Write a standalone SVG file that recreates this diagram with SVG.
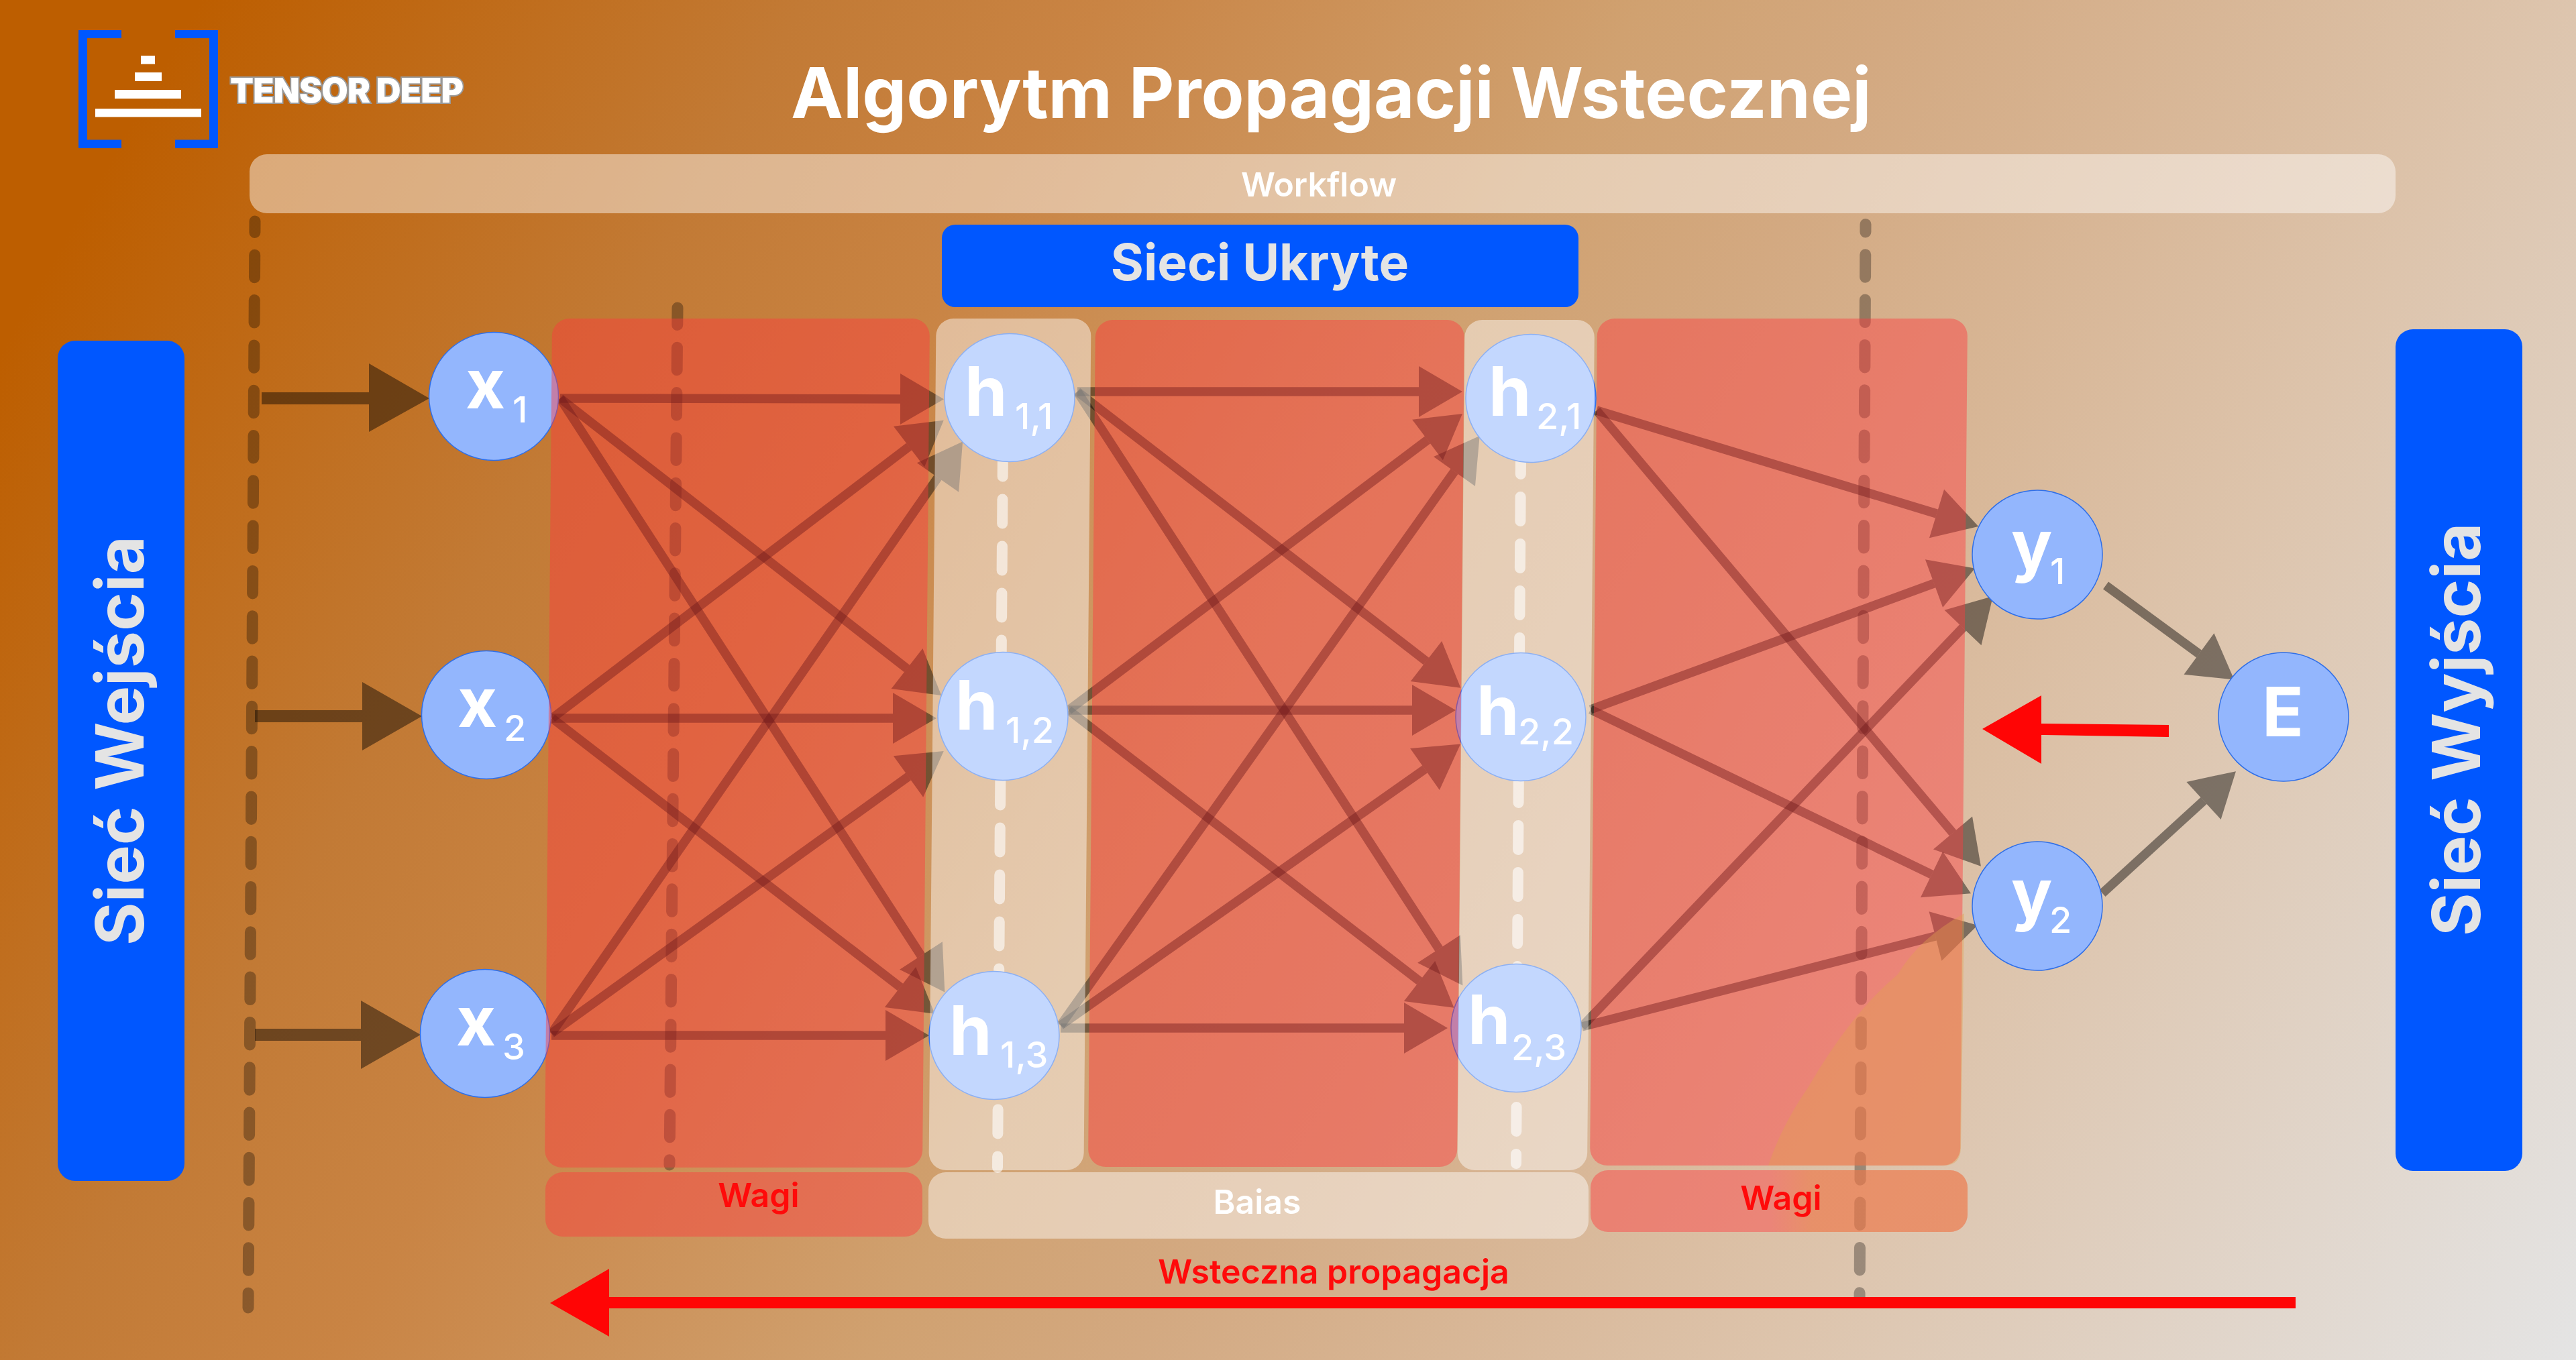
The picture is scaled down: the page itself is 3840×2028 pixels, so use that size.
<svg xmlns="http://www.w3.org/2000/svg" width="3840" height="2028" viewBox="0 0 3840 2028">
<style>
text{font-family:"Inter","Liberation Sans",sans-serif;fill:#fff}
.n{fill:#93b6fd;stroke:#2f6fe8;stroke-width:1.5}
.l{font-size:102px;font-weight:700}
.s{font-size:54px;font-weight:500}
.e line{stroke:#000;stroke-opacity:.44;stroke-width:13.5;marker-end:url(#h)}
.d{fill:none;stroke:#000;stroke-opacity:.3;stroke-width:17;stroke-linecap:round;stroke-dasharray:33.5 33.8}
.w{fill:none;stroke:#fff;stroke-opacity:.6;stroke-width:16;stroke-linecap:round;stroke-dasharray:36 34}
.r{fill:#ff393d;fill-opacity:.44}
.b{fill:#fff;fill-opacity:.45}
.o{fill:#e2a050;fill-opacity:.4}
.blue{fill:#0057ff}
.rl{fill:#ff0a0a;font-size:50px;font-weight:600}
.lab{font-size:50px;font-weight:600}
.side{font-size:98.500px;font-weight:700;fill:#e4e4e4}
</style>
<defs>
<linearGradient id="bg" gradientUnits="userSpaceOnUse" x1="0" y1="0" x2="3770" y2="2149">
<stop offset="0" stop-color="#bd5e00"/><stop offset=".06" stop-color="#bd5e00"/><stop offset=".24" stop-color="#c27a35"/><stop offset=".33" stop-color="#c98444"/><stop offset=".49" stop-color="#d0a170"/><stop offset=".57" stop-color="#d3a981"/><stop offset=".76" stop-color="#ddc4ac"/><stop offset="1" stop-color="#e4e4e4"/>
</linearGradient>
<linearGradient id="wo" gradientUnits="userSpaceOnUse" x1="2640" y1="0" x2="2700" y2="0"><stop offset="0" stop-color="#e2a050" stop-opacity="0"/><stop offset="1" stop-color="#e2a050" stop-opacity=".4"/></linearGradient>
<marker id="h" markerUnits="userSpaceOnUse" markerWidth="65" markerHeight="76" viewBox="0 -38 65 76" refX="0" refY="0" orient="auto" overflow="visible"><path d="M0-38L65 0L0 38Z" fill="#000" fill-opacity=".44"/></marker>
</defs>
<rect width="3840" height="2028" fill="url(#bg)"/>
<g id="logo">
<path class="blue" d="M117 45H181V57H130V208.500H181V221H117ZM325 45H261V57H312V208.500H261V221H325Z"/>
<path fill="#fff" d="M210 83H231V95.500H210ZM201 108H241V121H201ZM171 134H270V147H171ZM142 162H300V174.500H142Z"/>
<text x="343" y="153" font-size="51" font-weight="900" letter-spacing="-.8" stroke="#9a9a9a" stroke-width="4" paint-order="stroke">TENSOR DEEP</text>
</g>
<text id="title" x="1179" y="176" font-size="104.500" font-weight="700">Algorytm Propagacji Wstecznej</text>
<g id="guides">
<path class="d" d="M380 330L370 1950" stroke-dashoffset="17"/>
<path class="d" d="M1010 459L998 1737" stroke-dashoffset="8"/>
<path class="d" d="M2781 334.500L2772 1942" stroke-dashoffset="22"/>
<path class="w" d="M1496 534.500L1487 1741"/>
<path class="w" d="M2268 531L2260 1735"/>
</g>
<g id="connectors" class="e">
<line x1="835" y1="594" x2="1342" y2="595"/>
<line x1="835" y1="594" x2="1352" y2="997"/>
<line x1="835" y1="594" x2="1373" y2="1425"/>
<line x1="823" y1="1071" x2="1355" y2="666"/>
<line x1="823" y1="1071" x2="1331" y2="1071"/>
<line x1="823" y1="1071" x2="1342" y2="1472"/>
<line x1="822" y1="1541" x2="1398" y2="712"/>
<line x1="822" y1="1541" x2="1354" y2="1158"/>
<line x1="822" y1="1544" x2="1320" y2="1544"/>
<line x1="1606" y1="584" x2="2115" y2="584"/>
<line x1="1606" y1="584" x2="2126" y2="986"/>
<line x1="1606" y1="584" x2="2145" y2="1415"/>
<line x1="1593" y1="1059" x2="2128" y2="656"/>
<line x1="1593" y1="1059" x2="2105" y2="1059"/>
<line x1="1593" y1="1059" x2="2116" y2="1463"/>
<line x1="1581" y1="1529" x2="2168" y2="703"/>
<line x1="1581" y1="1529" x2="2124" y2="1147"/>
<line x1="1581" y1="1533" x2="2093" y2="1533"/>
<line x1="2380" y1="612" x2="2887" y2="766"/>
<line x1="2380" y1="612" x2="2911" y2="1242"/>
<line x1="2371" y1="1058" x2="2883" y2="870"/>
<line x1="2371" y1="1058" x2="2879.500" y2="1304"/>
<line x1="2358" y1="1531" x2="2926" y2="936"/>
<line x1="2358" y1="1531" x2="2885" y2="1396"/>
<line x1="3139" y1="873" x2="3278" y2="975"/>
<line x1="3134" y1="1332" x2="3285" y2="1194"/>
</g>
<g id="inputs" fill="#000" fill-opacity=".44">
<path d="M390 585H550V542L640 594L550 644V603H390Z"/>
<path d="M380 1059H540V1017L629 1068L540 1119V1077H380Z"/>
<path d="M380 1534H538V1492L627 1543L538 1594V1552H380Z"/>
</g>
<g id="x1"><ellipse class="n" cx="736" cy="591" rx="96.500" ry="95.500"/><text class="l" x="694" y="609">x</text><text class="s" x="764" y="630">1</text></g>
<g id="x2"><ellipse class="n" cx="725" cy="1066" rx="96.500" ry="95.500"/><text class="l" x="682" y="1084">x</text><text class="s" x="751" y="1105">2</text></g>
<g id="x3"><ellipse class="n" cx="723" cy="1541" rx="96.500" ry="95.500"/><text class="l" x="680" y="1559">x</text><text class="s" x="749" y="1580">3</text></g>
<g id="h11"><ellipse class="n" cx="1505" cy="593" rx="97" ry="95.500"/><text class="l" x="1438" y="620">h</text><text class="s" x="1513" y="640">1,1</text></g>
<g id="h12"><ellipse class="n" cx="1495" cy="1068" rx="97" ry="95.500"/><text class="l" x="1424" y="1088">h</text><text class="s" x="1499" y="1108">1,2</text></g>
<g id="h13"><ellipse class="n" cx="1482" cy="1544" rx="97" ry="95.500"/><text class="l" x="1415" y="1573">h</text><text class="s" x="1491" y="1592">1,3</text></g>
<g id="h21"><ellipse class="n" cx="2282" cy="594" rx="97" ry="95.500"/><text class="l" x="2219" y="620">h</text><text class="s" x="2290" y="640">2,1</text></g>
<g id="h22"><ellipse class="n" cx="2267" cy="1069" rx="97" ry="95.500"/><text class="l" x="2201" y="1096">h</text><text class="s" x="2263" y="1110">2,2</text></g>
<g id="h23"><ellipse class="n" cx="2260" cy="1533" rx="97" ry="95.500"/><text class="l" x="2188" y="1557">h</text><text class="s" x="2253" y="1581">2,3</text></g>
<g id="y1"><ellipse class="n" cx="3037" cy="827" rx="97" ry="96"/><text class="l" x="2998" y="849">y</text><text class="s" x="3056" y="871">1</text></g>
<g id="y2"><ellipse class="n" cx="3037" cy="1351" rx="97" ry="96"/><text class="l" x="2998" y="1369">y</text><text class="s" x="3055" y="1391">2</text></g>
<g id="E"><ellipse class="n" cx="3404" cy="1069" rx="97" ry="96"/><text class="l" x="3372" y="1098">E</text></g>
<g id="panels">
<g transform="matrix(1 0 -.0087 1 9.640 0)">
<rect class="r" x="817.500" y="475" width="563" height="1266" rx="26"/>
<rect class="b" x="1390" y="475" width="231" height="1270" rx="26"/>
<rect class="r" x="1627.500" y="477" width="550" height="1263" rx="26"/>
<rect class="b" x="2178" y="477" width="193.500" height="1268" rx="26"/>
<rect class="r" x="2375.500" y="475" width="552" height="1263" rx="26"/>
</g>
<path class="o" d="M2928 1362L2923 1712Q2922 1738 2898 1738H2636Q2655 1680 2695 1622Q2760 1510 2829 1453Q2860 1400 2928 1362Z"/>
<rect class="r" x="813" y="1748" width="562" height="96" rx="26"/>
<rect class="b" x="1384" y="1748" width="984" height="99" rx="26"/>
<rect class="r" x="2371" y="1745" width="562" height="92" rx="26"/>
<rect x="2371" y="1745" width="562" height="92" rx="26" fill="url(#wo)"/>
<rect class="b" x="372" y="230" width="3199" height="88" rx="26"/>
</g>
<g id="sieci-ukryte"><rect class="blue" x="1404" y="335" width="949" height="123" rx="20"/><text x="1878" y="418" font-size="75" font-weight="700" text-anchor="middle" style="fill:#e4e4e4">Sieci Ukryte</text></g>
<g id="siec-wejscia"><rect class="blue" x="86" y="508" width="189" height="1253" rx="26"/><text class="side" transform="translate(214 1410) rotate(-90)">Sieć Wejścia</text></g>
<g id="siec-wyjscia"><rect class="blue" x="3571" y="491" width="189" height="1255" rx="26"/><text class="side" transform="translate(3697 1396) rotate(-90)">Sieć Wyjścia</text></g>
<g id="labels">
<text class="lab" x="1966" y="293" text-anchor="middle">Workflow</text>
<text class="lab" x="1874" y="1810" text-anchor="middle">Baias</text>
<text class="rl" x="1131" y="1800" text-anchor="middle">Wagi</text>
<text class="rl" x="2655" y="1804" text-anchor="middle">Wagi</text>
<text class="rl" x="1988" y="1914" text-anchor="middle">Wsteczna propagacja</text>
</g>
<g id="backprop" fill="#ff0505">
<path d="M3233 1081L3043 1079V1037L2955 1087L3043 1139V1096L3233 1099Z"/>
<path d="M3422 1934H908V1892L820 1943L908 1993V1951H3422Z"/>
</g>
</svg>
